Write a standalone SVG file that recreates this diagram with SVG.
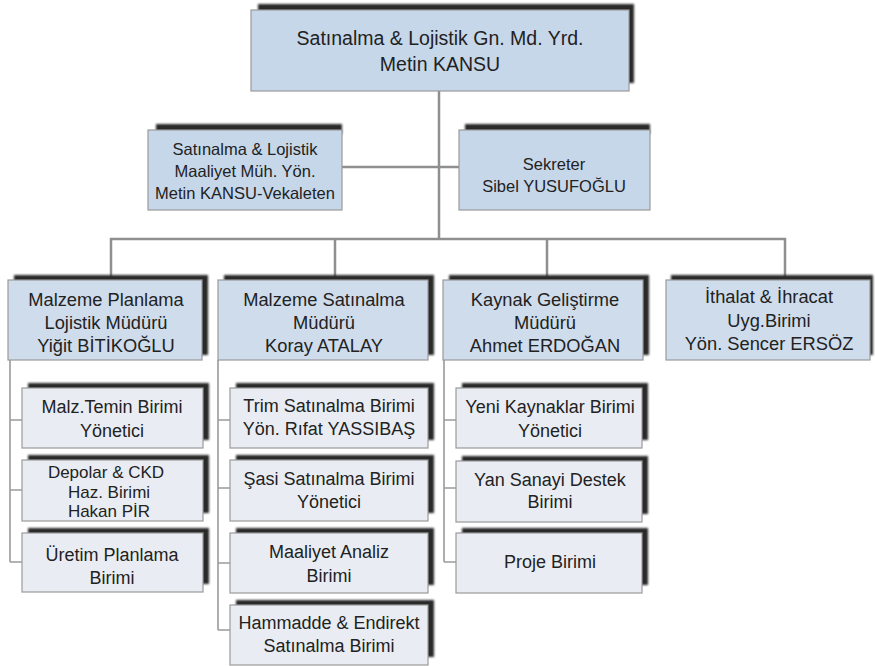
<svg xmlns="http://www.w3.org/2000/svg" width="875" height="666" viewBox="0 0 875 666">
<defs>
<filter id="blur" x="-5%" y="-20%" width="110%" height="140%"><feGaussianBlur stdDeviation="0.8"/></filter>
</defs>
<style>
.sh{fill:#2b2b2b;filter:url(#blur)}
.main{fill:#c6d7ea;stroke:#9a9a9a;stroke-width:1.2}
.dept{fill:#cfdcec;stroke:#9a9a9a;stroke-width:1.2}
.sub{fill:#e9edf3;stroke:#9a9a9a;stroke-width:1.2}
text{font-family:"Liberation Sans",Arial,sans-serif;fill:#222;text-anchor:middle}
.t1{font-size:19.5px}
.t2{font-size:16.5px}
.t3{font-size:18.3px}
.t4{font-size:18px}
.t5{font-size:17px}
.c{fill:none;stroke:#8f8f8f;stroke-width:2.5}
.cs{fill:none;stroke:#9a9a9a;stroke-width:1.6}
</style>
<g id="connectors">
<path class="c" d="M439,91 V239"/>
<path class="c" d="M342,167 H459"/>
<path class="c" d="M111,280 V239 H785 V280"/>
<path class="c" d="M335,239 V280"/>
<path class="c" d="M547,239 V280"/>
<path class="cs" d="M10,360 V562 M10,420 H22 M10,490 H22 M10,562 H22"/>
<path class="cs" d="M218,360 V630 M218,420 H230 M218,488 H230 M218,563 H230 M218,630 H230"/>
<path class="cs" d="M444,360 V562 M444,420 H456 M444,488 H456 M444,562 H456"/>
</g>
<g id="top">
<rect class="sh" x="258" y="4" width="376" height="79"/>
<rect class="main" x="251" y="10" width="378" height="81"/>
<text class="t1" x="440" y="45">Satınalma &amp; Lojistik Gn. Md. Yrd.</text>
<text class="t1" x="440" y="71">Metin KANSU</text>
</g>
<g id="maaliyet">
<rect class="sh" x="156" y="124" width="186" height="10"/>
<rect class="main" x="148" y="130" width="194" height="80"/>
<text class="t2" x="245" y="155">Satınalma &amp; Lojistik</text>
<text class="t2" x="245" y="177">Maaliyet Müh. Yön.</text>
<text class="t2" x="245" y="199">Metin KANSU-Vekaleten</text>
</g>
<g id="sekreter">
<rect class="sh" x="465" y="124" width="185" height="10"/>
<rect class="main" x="459" y="130" width="191" height="80"/>
<text class="t2" x="554" y="170">Sekreter</text>
<text class="t2" x="554" y="192">Sibel YUSUFOĞLU</text>
</g>
<g id="dept1">
<rect class="sh" x="14" y="275" width="194" height="80"/>
<rect class="dept" x="8" y="280" width="194" height="80"/>
<text class="t3" x="106" y="306">Malzeme Planlama</text>
<text class="t3" x="106" y="329">Lojistik Müdürü</text>
<text class="t3" x="106" y="352">Yiğit BİTİKOĞLU</text>
</g>
<g id="dept2">
<rect class="sh" x="224" y="275" width="210" height="80"/>
<rect class="dept" x="218" y="280" width="210" height="80"/>
<text class="t3" x="324" y="306">Malzeme Satınalma</text>
<text class="t3" x="324" y="329">Müdürü</text>
<text class="t3" x="324" y="352">Koray ATALAY</text>
</g>
<g id="dept3">
<rect class="sh" x="449" y="275" width="200" height="80"/>
<rect class="dept" x="443" y="280" width="200" height="80"/>
<text class="t3" x="545" y="306">Kaynak Geliştirme</text>
<text class="t3" x="545" y="329">Müdürü</text>
<text class="t3" x="545" y="352">Ahmet ERDOĞAN</text>
</g>
<g id="dept4">
<rect class="sh" x="671" y="275" width="202" height="80"/>
<rect class="dept" x="666" y="280" width="204" height="80"/>
<text class="t3" x="769" y="303">İthalat &amp; İhracat</text>
<text class="t3" x="769" y="327">Uyg.Birimi</text>
<text class="t3" x="769" y="350">Yön. Sencer ERSÖZ</text>
</g>
<g id="s11">
<rect class="sh" x="28" y="383" width="181" height="57"/>
<rect class="sub" x="22" y="388" width="181" height="60"/>
<text class="t4" x="112" y="413">Malz.Temin Birimi</text>
<text class="t4" x="112" y="437">Yönetici</text>
</g>
<g id="s12">
<rect class="sh" x="28" y="455" width="181" height="58"/>
<rect class="sub" x="22" y="460" width="181" height="61"/>
<text class="t5" x="106" y="478">Depolar &amp; CKD</text>
<text class="t5" x="109" y="497.5">Haz. Birimi</text>
<text class="t5" x="109" y="517">Hakan PİR</text>
</g>
<g id="s13">
<rect class="sh" x="28" y="528" width="181" height="56"/>
<rect class="sub" x="22" y="533" width="181" height="59"/>
<text class="t4" x="112" y="561">Üretim Planlama</text>
<text class="t4" x="112" y="584">Birimi</text>
</g>
<g id="s21">
<rect class="sh" x="236" y="383" width="198" height="57"/>
<rect class="sub" x="230" y="388" width="198" height="60"/>
<text class="t4" x="329" y="412">Trim Satınalma Birimi</text>
<text class="t4" x="329" y="435">Yön. Rıfat YASSIBAŞ</text>
</g>
<g id="s22">
<rect class="sh" x="236" y="455" width="198" height="58"/>
<rect class="sub" x="230" y="460" width="198" height="61"/>
<text class="t4" x="329" y="485">Şasi Satınalma Birimi</text>
<text class="t4" x="329" y="508">Yönetici</text>
</g>
<g id="s23">
<rect class="sh" x="236" y="528" width="198" height="57"/>
<rect class="sub" x="230" y="533" width="198" height="60"/>
<text class="t4" x="329" y="558">Maaliyet Analiz</text>
<text class="t4" x="329" y="582">Birimi</text>
</g>
<g id="s24">
<rect class="sh" x="236" y="600" width="198" height="57"/>
<rect class="sub" x="230" y="605" width="198" height="60"/>
<text class="t4" x="329" y="629">Hammadde &amp; Endirekt</text>
<text class="t4" x="329" y="652">Satınalma Birimi</text>
</g>
<g id="s31">
<rect class="sh" x="462" y="383" width="186" height="57"/>
<rect class="sub" x="456" y="388" width="186" height="60"/>
<text class="t4" x="550" y="413">Yeni Kaynaklar Birimi</text>
<text class="t4" x="550" y="437">Yönetici</text>
</g>
<g id="s32">
<rect class="sh" x="462" y="456" width="186" height="58"/>
<rect class="sub" x="456" y="461" width="186" height="61"/>
<text class="t4" x="550" y="486">Yan Sanayi Destek</text>
<text class="t4" x="550" y="508">Birimi</text>
</g>
<g id="s33">
<rect class="sh" x="462" y="528" width="186" height="57"/>
<rect class="sub" x="456" y="533" width="186" height="60"/>
<text class="t4" x="550" y="568">Proje Birimi</text>
</g>
</svg>
